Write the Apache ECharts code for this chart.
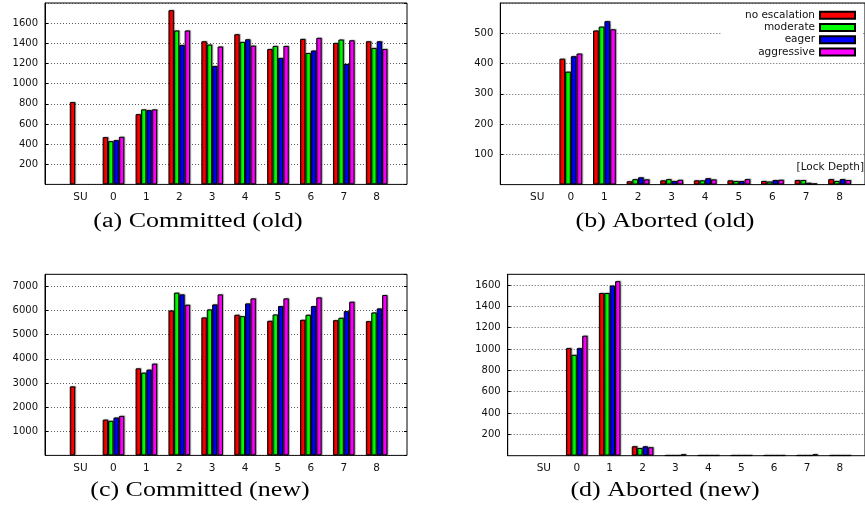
<!DOCTYPE html>
<html>
<head>
<meta charset="utf-8">
<script src="https://cdn.jsdelivr.net/npm/echarts@6/dist/echarts.min.js"></script>
<style>html,body{margin:0;padding:0;background:#fff}#c{width:865px;height:518px}</style>
</head>
<body>
<div id="c"></div>
<script>
// ---- data ----
const categories = ['SU', '0', '1', '2', '3', '4', '5', '6', '7', '8'];
const seriesNames = ['no escalation', 'moderate', 'eager', 'aggressive'];
const seriesColors = ['#ff0000', '#00ff00', '#0000ff', '#ff00ff'];
const captions = ['(a) Committed (old)', '(b) Aborted (old)', '(c) Committed (new)', '(d) Aborted (new)'];
const xAxisNote = '[Lock Depth]';

// (a) Committed (old)
const committedOldNoEsc = [817, 469, 697, 1729, 1420, 1490, 1344, 1444, 1404, 1420];
const committedOldModerate = [null, 429, 744, 1527, 1387, 1414, 1374, 1304, 1437, 1354];
const committedOldEager = [null, 439, 737, 1384, 1175, 1440, 1255, 1328, 1195, 1420];
const committedOldAggressive = [null, 472, 744, 1527, 1368, 1377, 1374, 1454, 1430, 1344];

// (b) Aborted (old)
const abortedOldNoEsc = [null, 416, 509, 11, 14, 14, 14, 12, 15, 18];
const abortedOldModerate = [null, 373, 522, 18, 18, 14, 12, 10, 15, 12];
const abortedOldEager = [null, 424, 540, 24, 12, 21, 12, 15, 6, 18];
const abortedOldAggressive = [null, 433, 513, 17, 16, 17, 18, 16, 4, 15];

// (c) Committed (new)
const committedNewNoEsc = [2857, 1480, 3605, 6000, 5711, 5822, 5573, 5614, 5600, 5559];
const committedNewModerate = [null, 1430, 3425, 6737, 6044, 5767, 5836, 5822, 5697, 5919];
const committedNewEager = [null, 1567, 3550, 6668, 6252, 6294, 6183, 6183, 5974, 6086];
const committedNewAggressive = [null, 1635, 3799, 6238, 6668, 6502, 6502, 6544, 6363, 6641];

// (d) Aborted (new)
const abortedNewNoEsc = [null, 1008, 1525, 88, 3, 3, 3, 3, 3, 3];
const abortedNewModerate = [null, 945, 1525, 72, 3, 3, 3, 3, 3, 3];
const abortedNewEager = [null, 1008, 1594, 88, 3, 3, 3, 3, 3, 3];
const abortedNewAggressive = [null, 1124, 1636, 79, 14, 3, 3, 3, 14, 3];

// y-axis settings per panel
const yMax = [1800, 600, 7500, 1700];
const yInterval = [200, 100, 1000, 200];

const panelData = [
  [committedOldNoEsc, committedOldModerate, committedOldEager, committedOldAggressive],
  [abortedOldNoEsc, abortedOldModerate, abortedOldEager, abortedOldAggressive],
  [committedNewNoEsc, committedNewModerate, committedNewEager, committedNewAggressive],
  [abortedNewNoEsc, abortedNewModerate, abortedNewEager, abortedNewAggressive]
];

// ---- layout ----
const frames = [
  [45, 3, 362, 181.4],
  [500.3, 3, 372, 181.6],
  [45, 274.3, 362, 181.1],
  [507.7, 274.3, 362, 181.4]
];
const barAreas = [
  [64.1, 329],
  [520.4, 336],
  [64.1, 329],
  [527.4, 329]
];
const barWidths = [5.4, 5.7, 5.4, 5.4];
const captionPos = [[198, 222], [665, 222], [200, 491], [665, 491]];

const FONT = 'DejaVu Sans';
const grid = [], xAxis = [], yAxis = [], series = [];

for (let p = 0; p < 4; p++) {
  const f = frames[p], b = barAreas[p];
  grid.push({ left: f[0], top: f[1], width: f[2], height: f[3], show: true, borderColor: '#000', borderWidth: 1, backgroundColor: 'transparent' });
  grid.push({ left: b[0], top: f[1], width: b[1], height: f[3], show: false });
  xAxis.push({ gridIndex: 2 * p, type: 'value', show: false, min: 0, max: 1 });
  xAxis.push({
    gridIndex: 2 * p + 1, type: 'category', data: categories,
    axisLine: { show: false }, axisTick: { show: false },
    axisLabel: { color: '#111', fontFamily: FONT, fontSize: 10.5, margin: 7 }
  });
  yAxis.push({
    gridIndex: 2 * p, type: 'value', min: 0, max: yMax[p], interval: yInterval[p],
    axisLine: { show: true, lineStyle: { color: '#000', width: 1 } },
    axisTick: { show: true, inside: true, length: 3, lineStyle: { color: '#000' } },
    axisLabel: { color: '#111', fontFamily: FONT, fontSize: 10, margin: 7, showMinLabel: false, showMaxLabel: false,
      formatter: v => String(v) },
    splitLine: { show: true, lineStyle: { color: '#333', width: 0.8, type: [1, 2] } }
  });
  yAxis.push({ gridIndex: 2 * p + 1, type: 'value', min: 0, max: yMax[p], show: false, splitLine: { show: false } });
  for (let s = 0; s < 4; s++) {
    series.push({
      type: 'bar', name: seriesNames[s],
      xAxisIndex: 2 * p + 1, yAxisIndex: 2 * p + 1,
      data: panelData[p][s],
      barWidth: barWidths[p], barGap: '0%',
      itemStyle: {
        color: seriesColors[s], borderColor: '#000', borderWidth: 1,
        shadowColor: 'rgba(0,0,0,0.35)', shadowBlur: 1, shadowOffsetX: 1, shadowOffsetY: -0.5
      },
      emphasis: { disabled: true },
      animation: false
    });
  }
}
// mirrored ticks on right edge of the left-hand panels
[0, 2].forEach(p => {
  yAxis.push({
    gridIndex: 2 * p, type: 'value', position: 'right', min: 0, max: yMax[p], interval: yInterval[p],
    axisLine: { show: false }, axisLabel: { show: false }, splitLine: { show: false },
    axisTick: { show: true, inside: true, length: 3, lineStyle: { color: '#000' } }
  });
});

const graphic = captions.map((t, i) => ({
  type: 'text', x: captionPos[i][0], y: captionPos[i][1], scaleX: 1.3,
  style: { text: t, fontFamily: 'Liberation Serif', fontSize: 20, fill: '#000', textAlign: 'center', textVerticalAlign: 'middle' }
}));
graphic.push({
  type: 'text', x: 864, y: 167, z: 10,
  style: { text: xAxisNote, fontFamily: FONT, fontSize: 10.5, fill: '#111', textAlign: 'right', textVerticalAlign: 'middle' }
});

const chart = echarts.init(document.getElementById('c'), null, { renderer: 'canvas' });
chart.setOption({
  animation: false,
  backgroundColor: '#fff',
  grid, xAxis, yAxis, series, graphic,
  legend: {
    data: seriesNames, orient: 'vertical', align: 'right',
    right: 2, top: 4.5, padding: [4.5, 7, 4, 24], itemGap: 0,
    itemWidth: 35, itemHeight: 7, icon: 'rect',
    backgroundColor: '#fff',
    textStyle: { fontFamily: FONT, fontSize: 10.5, color: '#111', lineHeight: 12.3 },
    selectedMode: false
  }
});
</script>
</body>
</html>
